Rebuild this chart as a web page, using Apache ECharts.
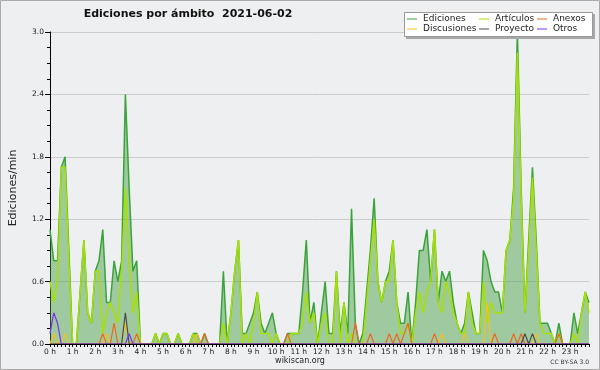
<!DOCTYPE html>
<html><head><meta charset="utf-8">
<script src="https://cdn.jsdelivr.net/npm/echarts@6/dist/echarts.min.js"></script>
<style>html,body{margin:0;padding:0;background:#eeeff1}#c{width:600px;height:370px}</style>
</head><body><div id="c"></div>
<script>
// tick labels (one per hour, 6 ten-minute bins per hour)
const hourLabels = ['0 h','1 h','2 h','3 h','4 h','5 h','6 h','7 h','8 h','9 h','10 h','11 h',
  '12 h','13 h','14 h','15 h','16 h','17 h','18 h','19 h','20 h','21 h','22 h','23 h'];

// Edits per minute, 10-minute bins (rows = hours)
const ediciones = [
  1.1,0.8,0.8,1.7,1.8,0.9,  0,0,0.5,1.0,0.3,0.2,  0.7,0.8,1.1,0.4,0.4,0.8,  0.6,0.8,2.4,1.5,0.7,0.8,
  0,0,0,0,0.1,0,  0.1,0.1,0,0,0.1,0,  0,0,0.1,0.1,0,0.1,  0,0,0,0,0.7,0,
  0.3,0.7,1.0,0.1,0.1,0.2,  0.3,0.5,0.2,0.1,0.2,0.3,  0.1,0,0,0.1,0.1,0.1,  0.1,0.5,1.0,0.2,0.4,0,
  0.3,0.6,0.1,0.1,0.7,0.1,  0.4,0.1,1.3,0.2,0,0.1,  0.5,0.9,1.4,0.6,0.4,0.6,  0.7,1.0,0.4,0.2,0.2,0.5,
  0,0.4,0.9,0.9,1.1,0.6,  1.1,0.4,0.7,0.6,0.7,0.4,  0.2,0.1,0.2,0.5,0.3,0.1,  0.1,0.9,0.8,0.6,0.5,0.5,
  0.3,0.9,1.0,1.5,3.0,1.5,  0.3,1.0,1.7,1.0,0.2,0.2,  0.2,0.1,0,0.2,0,0,  0,0.3,0.1,0.3,0.5,0.4
];
const articulos = [
  0.6,0.4,0.6,1.7,1.7,0.8,  0,0,0.5,1.0,0.3,0.2,  0.7,0.7,0.1,0.3,0.4,0.3,  0.2,0.7,1.5,0.8,0.3,0.5,
  0,0,0,0,0.1,0,  0.1,0.1,0,0,0.1,0,  0,0,0.1,0,0,0,  0,0,0,0,0.2,0,
  0.3,0.7,1.0,0,0.1,0,  0.2,0.5,0.1,0.1,0.1,0,  0.1,0,0,0,0.1,0.1,  0.1,0.2,0.5,0.2,0.3,0,
  0.2,0.3,0,0,0.7,0,  0.4,0,0.1,0,0,0,  0.4,0.8,1.2,0.6,0.4,0.6,  0.6,1.0,0.4,0.1,0.1,0.2,
  0,0.3,0.5,0.3,0.5,0.6,  1.1,0.4,0.3,0.6,0.5,0.3,  0.2,0.1,0.1,0.5,0.2,0.1,  0.1,0.6,0.2,0.4,0.3,0.3,
  0.3,0.9,1.0,1.4,2.8,1.4,  0.3,0.9,1.6,0.9,0.2,0.1,  0.1,0.1,0,0.1,0,0,  0,0.1,0,0.3,0.5,0.3
];
const discusiones = [
  0,0.1,0,0,0.1,0,  0,0,0,0,0,0,  0,0,0,0.1,0,0,  0,0,0.2,0,0,0,
  0,0,0,0,0,0,  0,0,0,0,0,0,  0,0,0,0.1,0,0,  0,0,0,0,0,0,
  0,0,0,0,0,0,  0,0,0,0,0,0,  0,0,0,0,0,0,  0,0,0,0,0,0,
  0,0,0,0,0,0,  0,0,0,0,0,0,  0,0,0,0,0,0,  0,0,0,0,0,0,
  0,0,0,0,0,0,  0,0,0.1,0,0,0,  0,0,0.1,0,0,0,  0,0,0.4,0,0,0,
  0,0,0,0,0,0,  0,0,0,0.1,0,0,  0,0,0,0,0,0,  0,0,0,0,0,0
];
const anexos = [
  0,0,0,0,0,0,  0,0,0,0,0,0,  0,0,0.1,0,0,0.2,  0,0,0,0,0,0.1,
  0,0,0,0,0,0,  0,0,0,0,0,0,  0,0,0,0,0,0.1,  0,0,0,0,0,0,
  0,0,0,0,0,0,  0,0,0,0,0,0,  0,0,0,0.1,0,0,  0,0,0,0,0,0,
  0,0,0,0,0,0,  0,0,0,0.2,0,0,  0,0.1,0,0,0,0,  0.1,0,0.1,0,0.1,0.2,
  0,0,0,0,0,0,  0.1,0,0,0,0,0,  0,0,0,0,0,0,  0,0,0,0,0.1,0,
  0,0,0,0.1,0,0.1,  0,0,0,0,0,0,  0,0,0,0.1,0,0,  0,0,0,0,0,0
];
const proyecto = [
  0,0,0,0,0,0,  0,0,0,0,0,0,  0,0,0,0,0,0,  0,0,0.3,0,0,0,
  0,0,0,0,0,0,  0,0,0,0,0,0,  0,0,0,0,0,0,  0,0,0,0,0,0,
  0,0,0,0,0,0,  0,0,0,0,0,0,  0,0,0,0,0,0,  0,0,0,0,0,0,
  0,0,0,0,0,0,  0,0,0,0,0,0,  0,0,0,0,0,0,  0,0,0,0,0,0,
  0,0,0,0,0,0,  0,0,0,0,0,0,  0,0,0,0,0,0,  0,0,0,0,0,0,
  0,0,0,0,0,0,  0.1,0,0.1,0,0,0,  0,0,0,0,0,0,  0,0,0,0,0,0
];
const otros = [
  0.1,0.3,0.2,0,0,0,  0,0,0,0,0,0,  0,0,0,0,0,0,  0,0,0,0.1,0,0,
  0,0,0,0,0,0,  0,0,0,0,0,0,  0,0,0,0,0,0,  0,0,0,0,0,0,
  0,0,0,0,0,0,  0,0,0,0,0,0,  0,0,0,0,0,0,  0,0,0,0,0,0,
  0,0,0,0,0,0,  0,0,0,0,0,0,  0,0,0,0,0,0,  0,0,0,0,0,0,
  0,0,0,0,0,0,  0,0,0,0,0,0,  0,0,0,0,0,0,  0,0,0,0,0,0,
  0,0,0,0,0,0,  0,0,0,0,0,0,  0,0,0,0,0,0,  0,0,0,0,0,0
];

const categories = [];
for (let i = 0; i < ediciones.length; i++) categories.push(i % 6 === 0 ? hourLabels[i / 6] : '');

const F = 'DejaVu Sans';
const chart = echarts.init(document.getElementById('c'), null, {renderer: 'canvas'});
const lineS = (name, data, color, w, z) => ({
  name, type: 'line', data, symbol: 'none', smooth: false, z,
  lineStyle: {color, width: w}, itemStyle: {color}
});
chart.setOption({
  animation: false,
  backgroundColor: '#eeeff1',
  grid: {left: 46, right: 11, top: 32, bottom: 26},
  legend: [
    {data: ['Ediciones', 'Discusiones'], left: 407, top: 14},
    {data: ['Artículos', 'Proyecto'], left: 479, top: 14},
    {data: ['Anexos', 'Otros'], left: 537, top: 14}
  ].map(l => Object.assign(l, {
    orient: 'vertical', icon: 'rect', itemWidth: 10, itemHeight: 1, itemGap: 0,
    padding: 0, z: 20,
    textStyle: {fontFamily: F, fontSize: 9, color: '#222', lineHeight: 10, padding: [0, 0, 0, 1]}
  })),
  xAxis: {
    type: 'category', data: categories, boundaryGap: false, z: 5,
    axisLine: {lineStyle: {color: '#000', width: 1}},
    axisTick: {show: true, interval: 0, length: 3, lineStyle: {color: '#000'}},
    axisLabel: {interval: (i) => i % 6 === 0, margin: 4, fontFamily: F, fontSize: 7.5, color: '#222'},
    splitLine: {show: false}
  },
  yAxis: {
    type: 'value', min: 0, max: 3.0, interval: 0.6,
    name: 'Ediciones/min', nameLocation: 'middle', nameRotate: 90, nameGap: 31,
    nameTextStyle: {fontFamily: F, fontSize: 11, color: '#222'},
    axisLine: {show: true, lineStyle: {color: '#000', width: 1}},
    axisTick: {show: true, length: 5, lineStyle: {color: '#000'}},
    minorTick: {show: true, splitNumber: 4, length: 3, lineStyle: {color: '#000'}},
    axisLabel: {margin: 6, fontFamily: F, fontSize: 7.5, color: '#222', formatter: v => v.toFixed(1)},
    splitLine: {show: true, lineStyle: {color: '#cccccc', width: 1}}
  },
  series: [
    Object.assign(lineS('Ediciones', ediciones, '#3aa33a', 1.5, 2),
      {areaStyle: {color: '#3d9e3d', opacity: 0.45}}),
    lineS('Artículos', articulos, '#a8e000', 1.5, 3),
    lineS('Discusiones', discusiones, '#f2c21a', 1.2, 4),
    lineS('Anexos', anexos, '#f0661e', 1.2, 4),
    lineS('Proyecto', proyecto, '#4a4a4a', 1.2, 4),
    lineS('Otros', otros, '#7a30f0', 1.2, 4)
  ],
  graphic: [
    {type: 'rect', z: -10, silent: true, shape: {x: 0.5, y: 0.5, width: 599, height: 369},
      style: {fill: null, stroke: '#aaaaaa', lineWidth: 1}},
    {type: 'rect', z: 10, silent: true, shape: {x: 406, y: 14, width: 189, height: 25},
      style: {fill: '#a8a8a8'}},
    {type: 'rect', z: 11, silent: true, shape: {x: 404.5, y: 12.5, width: 188, height: 24},
      style: {fill: '#ffffff', stroke: '#999999', lineWidth: 1}},
    {type: 'text', z: 10, silent: true, style: {x: 188, y: 14, text: 'Ediciones por ámbito  2021-06-02',
      align: 'center', verticalAlign: 'middle', font: 'bold 11px "DejaVu Sans"', fill: '#111'}},
    {type: 'text', z: 10, silent: true, style: {x: 300, y: 361, text: 'wikiscan.org',
      align: 'center', verticalAlign: 'middle', font: '8px "DejaVu Sans"', fill: '#222'}},
    {type: 'text', z: 10, silent: true, style: {x: 589, y: 362, text: 'CC BY-SA 3.0',
      align: 'right', verticalAlign: 'middle', font: '6px "DejaVu Sans"', fill: '#333'}}
  ]
});
</script></body></html>
